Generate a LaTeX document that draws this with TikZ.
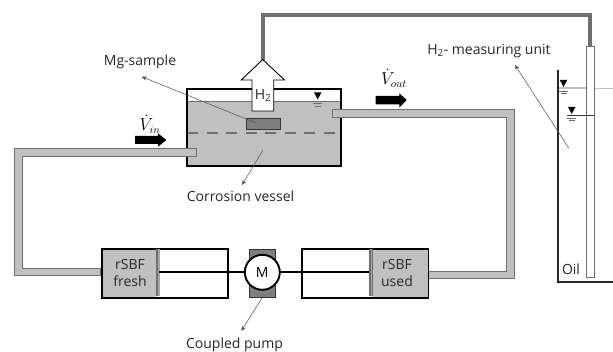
\documentclass[tikz,border=0pt]{standalone}
\usepackage{fontspec}
\setmainfont{Open Sans}
\usetikzlibrary{arrows.meta}
\definecolor{liq}{HTML}{C0C0C0}
\definecolor{dk}{HTML}{6E6E6E}
\definecolor{blk}{HTML}{7F7F7F}
\tikzset{
 lbl/.style={font=\fontsize{14}{16.5}\selectfont,text=black!85,inner sep=0pt,align=center},
 pointer/.style={draw=black!70,line width=0.5pt,-{Stealth[length=5pt,width=4pt]}},
 thick box/.style={draw=black,line width=1.6pt},
 pipe/.style={draw=dk,line width=1pt,fill=liq},
 flowarrow/.style={draw=none,fill=black},
 rate/.style={font=\fontsize{16}{18}\selectfont,inner sep=0pt},
}
\newcommand{\levelmark}[2]{%
 \fill (#1-3.7,#2-7) -- (#1+3.7,#2-7) -- (#1,#2) -- cycle;
 \draw[dk,line width=0.6pt] (#1-4.5,#2+4) -- (#1+4.5,#2+4) (#1-3,#2+6.5) -- (#1+3,#2+6.5);}
\begin{document}
\begin{tikzpicture}[x=1pt,y=-1pt]
\useasboundingbox (0,0) rectangle (613,352);
% vessel
\fill[liq] (186,101) rectangle (340,165);
\draw[dk,line width=0.7pt] (186,101) -- (340,101);
\fill[blk] (246,118) rectangle (280,129);
\draw[black!80,line width=0.8pt] (246,118) rectangle (280,129);
\draw[dk,line width=2.7pt,dash pattern=on 11pt off 8.5pt] (187,133) -- (335,133);
\node[thick box,minimum width=154pt,minimum height=77pt,inner sep=0pt,anchor=north west] (vessel) at (186,88) {};
% gas line
\coordinate (g1) at (263,15); \coordinate (g2) at (590,15); \coordinate (g3) at (590,46);
\draw[dk,line width=4pt] (263,60) -- (g1) -- (g2) -- (g3);
% H2 arrow
\draw[fill=white,line width=0.9pt,line join=miter] (262.7,59.5) -- (284.5,80) -- (273.7,80) -- (273.7,111) -- (252,111) -- (252,80) -- (241.3,80) -- cycle;
\node[lbl] (h2) at (263,95.5) {H\textsubscript{2}};
\levelmark{317.7}{99.5}
% pipes
\path[pipe] (332.7,109.3) -- (514,109.3) -- (514,279) -- (427.7,279) -- (427.7,271.7) -- (506,271.7) -- (506,117.3) -- (332.7,117.3) -- cycle;
\path[pipe] (196.7,148.3) -- (14.7,148.3) -- (14.7,275.7) -- (100.7,275.7) -- (100.7,268.3) -- (22.3,268.3) -- (22.3,156.3) -- (196.7,156.3) -- cycle;
% flow arrows
\path[flowarrow] (135,136) -- (158,136) -- (158,133.3) -- (166.3,140) -- (158,146.7) -- (158,144) -- (135,144) -- cycle;
\path[flowarrow] (375.7,96) -- (399.3,96) -- (399.3,93.3) -- (406.7,100) -- (399.3,107.7) -- (399.3,104.3) -- (375.7,104.3) -- cycle;
\node[rate] (vin) at (150,124) {$\dot{V}_{in}$};
\node[rate] (vout) at (394,78) {$\dot{V}_{out}$};
% syringes
\fill[liq] (101,248) rectangle (156,297);
\fill[liq] (372,248) rectangle (428,297);
\node[thick box,minimum width=126pt,minimum height=49pt,inner sep=0pt,anchor=north west] (synL) at (101,248) {};
\node[thick box,minimum width=126.5pt,minimum height=49pt,inner sep=0pt,anchor=north west] (synR) at (301.3,248) {};
\fill[dk] (155.5,249) rectangle (158,296);
\fill[black!35] (158,249) rectangle (160,296);
\fill[dk] (369,249) rectangle (370.5,296);
\fill[black!35] (370.5,249) rectangle (371.5,296);
\fill[dk] (371.5,249) rectangle (372.5,296);
\node[lbl] (fresh) at (130,273) {rSBF\\[1pt]fresh};
\node[lbl] (used) at (397,273) {rSBF\\[1pt]used};
% pump
\node[draw=black!80,fill=blk,line width=0.8pt,minimum width=26.5pt,minimum height=48pt,inner sep=0pt] (block) at (262.5,273) {};
\draw[line width=2pt] (159,272.5) -- (369,272.5);
\node[circle,draw=black,fill=white,line width=1.9pt,minimum size=35pt,inner sep=0pt,font=\fontsize{14}{16}\selectfont] (motor) at (262.3,272.3) {M};
% labels
\node[lbl] (corr) at (240.5,196) {Corrosion vessel};
\node[lbl] (pump) at (234.5,345) {Coupled pump};
\node[lbl] (mg) at (140,62) {Mg-sample};
\node[lbl] (unit) at (489,51) {H\textsubscript{2}- measuring unit};
\node[lbl] (oil) at (571,269) {Oil};
% measuring unit
\coordinate (w1) at (558,70); \coordinate (w2) at (558,282); \coordinate (w3) at (613,282);
\draw[liq,line width=1.2pt] (558,88) -- (586,88);
\draw[liq,line width=0.7pt] (594,88) -- (613,88);
\draw[black!85,line width=1.2pt] (w1) -- (w2) -- (w3);
\node[draw=dk,fill=white,line width=1pt,minimum width=8pt,minimum height=231.5pt,inner sep=0pt,anchor=north west] (tube) at (585.9,45.7) {};
\draw[black!80,line width=0.6pt] (567,115.3) -- (594,115.3);
\levelmark{563.5}{87}
\levelmark{571.7}{114}
% pointers
\coordinate (p1) at (263,150); \coordinate (p2) at (242,185);
\draw[pointer] (p1) -- (p2);
\coordinate (p3) at (262,298); \coordinate (p4) at (241.3,331);
\draw[pointer] (p3) -- (p4);
\coordinate (p5) at (568.7,148); \coordinate (p6) at (515,65);
\draw[pointer] (p5) -- (p6);
\coordinate (p7) at (256,123); \coordinate (p8) at (141.7,76.7);
\draw[pointer] (p7) -- (p8);
\end{tikzpicture}
\end{document}
